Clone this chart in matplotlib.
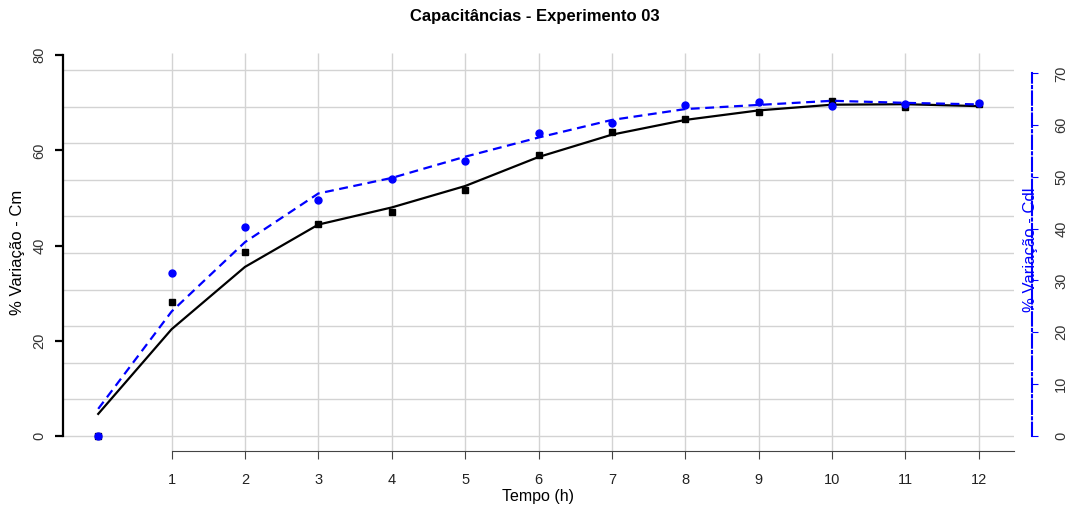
import numpy as np
import matplotlib.pyplot as plt

plt.rcParams['font.family'] = ['Liberation Sans', 'DejaVu Sans']

# horas de medição
tempo = np.arange(0, 13)

# variação percentual de Cm (pontos medidos e curva ajustada)
cm_pts = [0.0, 28.2, 38.6, 44.6, 47.0, 51.6, 59.0, 63.9, 66.5, 68.0, 70.3, 69.1, 69.8]
cm_fit = [4.6, 22.4, 35.5, 44.4, 48.0, 52.5, 58.6, 63.3, 66.4, 68.4, 69.6, 69.7, 69.3]

# variação percentual de Cdl (eixo da direita)
cdl_pts = [0.0, 31.5, 40.4, 45.6, 49.6, 53.1, 58.4, 60.4, 63.9, 64.5, 63.7, 64.1, 64.2]
cdl_fit = [5.2, 24.0, 37.4, 46.8, 49.8, 53.9, 57.6, 61.0, 63.1, 63.9, 64.7, 64.3, 64.0]

x_ticks = list(range(1, 13))
cm_ticks = [0, 20, 40, 60, 80]
cdl_ticks = [0, 10, 20, 30, 40, 50, 60, 70]

W, H = 1068, 508
fig = plt.figure(figsize=(W / 100, H / 100), dpi=100)
ax = fig.add_axes([63 / W, 57 / H, 951 / W, 411 / H])
ax.set_xlim(-0.48, 12.48)
ax.set_ylim(-3.2, 83.2)

# grade: 10 faixas horizontais iguais e linhas verticais nas horas
grid_col = '#d3d3d3'
for f in np.linspace(15, 381, 11) / 411:
    ax.plot([0, 1], [f, f], transform=ax.transAxes, color=grid_col, lw=1, zorder=0)
ax.vlines(x_ticks, -3.2, 80.4, color=grid_col, lw=1, zorder=0)

# Cm
ax.plot(tempo, cm_fit, color='black', lw=1.6, zorder=3)
ax.plot(tempo, cm_pts, ls='none', marker='s', ms=5, color='black', zorder=4)

for s in ['top', 'right']:
    ax.spines[s].set_visible(False)
ax.spines['left'].set_bounds(0, 80)
ax.spines['left'].set_linewidth(1.6)
ax.spines['bottom'].set_bounds(1, 12.48)
ax.spines['bottom'].set_color('#444444')
ax.set_xticks(x_ticks)
ax.set_yticks(cm_ticks)
ax.tick_params(axis='x', length=6, color='#444444', pad=10, labelsize=10.5, labelcolor='#222222')
ax.tick_params(axis='y', length=6, width=1.6, pad=6, labelsize=10.5, labelcolor='#333333',
               labelrotation=90)
for lbl in ax.get_yticklabels():
    lbl.set_va('center')

# Cdl no eixo secundário
ax2 = ax.twinx()
ax2.set_ylim(-2.94, 76.44)
ax2.plot(tempo, cdl_fit, color='blue', lw=1.6, ls=(0, (4, 2.5)), zorder=3)
ax2.plot(tempo, cdl_pts, ls='none', marker='o', ms=5, color='blue', zorder=4)

for s in ['top', 'left', 'bottom']:
    ax2.spines[s].set_visible(False)
ax2.spines['right'].set_position(('outward', 13))
ax2.spines['right'].set_bounds(0, 70)
ax2.spines['right'].set_color('blue')
ax2.spines['right'].set_linestyle('-.')
ax2.spines['right'].set_linewidth(1.5)
ax2.set_yticks(cdl_ticks)
ax2.tick_params(axis='y', length=4, color='blue', pad=12, labelsize=10.5,
                labelcolor='#333333', labelrotation=90)
for lbl in ax2.get_yticklabels():
    lbl.set_va('center')

fig.text(535 / W, 1 - 17 / H, 'Capacitâncias - Experimento 03', ha='center', va='center',
         fontsize=12, fontweight='bold')
fig.text(538 / W, 1 - 496 / H, 'Tempo (h)', ha='center', va='center', fontsize=11.5)
fig.text(18 / W, 1 - 252 / H, '% Variação - Cm', ha='center', va='center', rotation=90,
         fontsize=12)
fig.text(1030 / W, 1 - 250 / H, '% Variação - Cdl', ha='center', va='center', rotation=90,
         fontsize=12, color='blue')

fig.savefig('out.png', dpi=100)
